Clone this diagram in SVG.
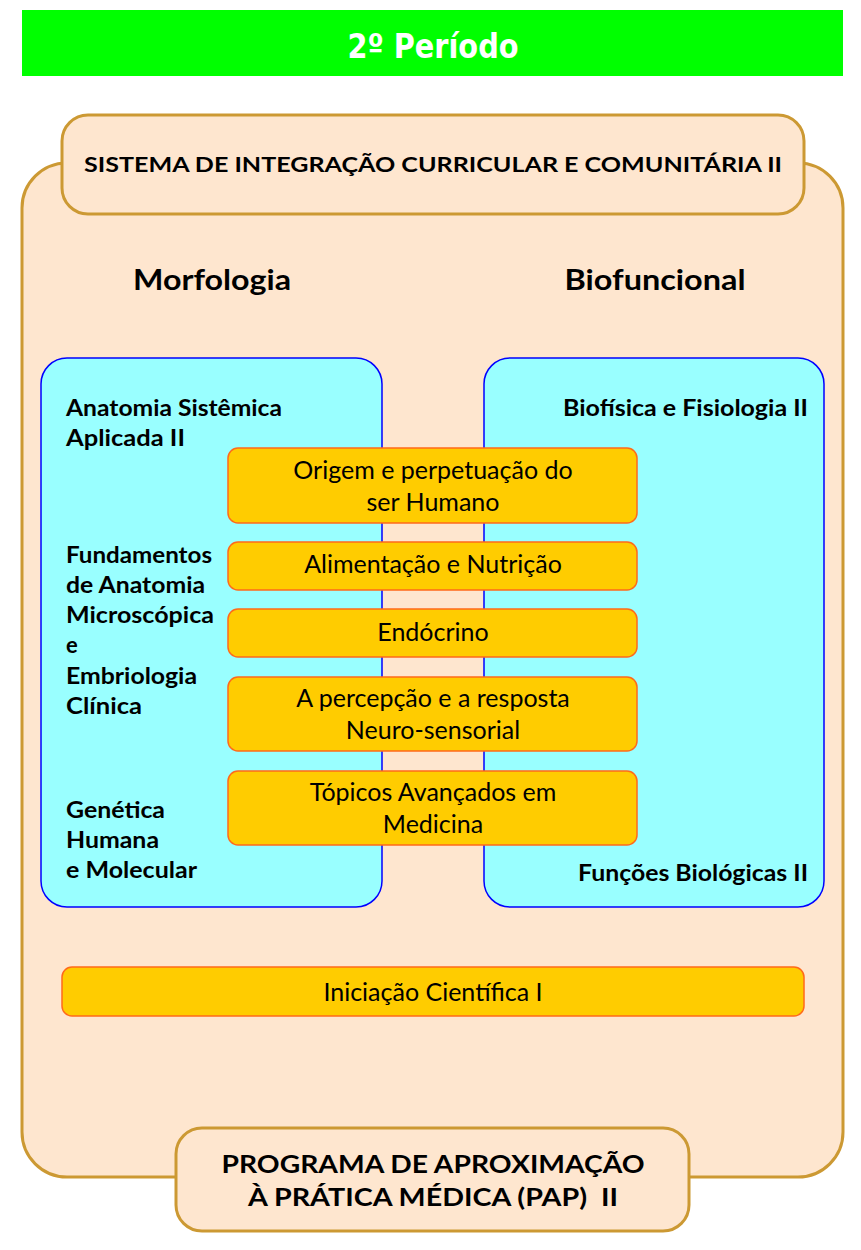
<svg xmlns="http://www.w3.org/2000/svg" width="861" height="1250" viewBox="0 0 861 1250">
<style>
.frame{fill:#fee6cf;stroke:#cc9933;stroke-width:3}
.blue{fill:#99ffff;stroke:#0000ff;stroke-width:1.5}
.org{fill:#ffcc00;stroke:#ff6a1a;stroke-width:1.5}
.b{font-family:Lato,"Open Sans",sans-serif;font-weight:bold;fill:#000}
.r{font-family:Lato,"Open Sans",sans-serif;font-size:25px;fill:#000;text-anchor:middle}
.lab{font-size:22px}
</style>
<rect width="861" height="1250" fill="#fff"/>
<g id="title">
<rect x="22" y="10" width="821" height="66" fill="#00ff00"/>
<text x="433" y="58" text-anchor="middle" font-family="'DejaVu Sans Condensed','DejaVu Sans',sans-serif" font-stretch="condensed" font-weight="bold" font-size="34" fill="#fff" textLength="171" lengthAdjust="spacingAndGlyphs">2º Período</text>
</g>
<g id="container">
<rect class="frame" x="22" y="163" width="821" height="1014" rx="45"/>
</g>
<g id="sicc">
<rect class="frame" x="62" y="115" width="742" height="99" rx="26"/>
<text class="b" x="433" y="172" font-size="21" text-anchor="middle" textLength="698" lengthAdjust="spacingAndGlyphs">SISTEMA DE INTEGRAÇÃO CURRICULAR E COMUNITÁRIA II</text>
</g>
<g id="headings">
<text class="b" x="212" y="290" font-size="28" text-anchor="middle" textLength="158" lengthAdjust="spacingAndGlyphs">Morfologia</text>
<text class="b" x="655" y="290" font-size="28" text-anchor="middle" textLength="181" lengthAdjust="spacingAndGlyphs">Biofuncional</text>
</g>
<g id="morfologia">
<rect class="blue" x="41" y="358" width="341" height="549" rx="26"/>
<text class="b lab" x="66" y="416" textLength="216" lengthAdjust="spacingAndGlyphs">Anatomia Sistêmica</text>
<text class="b lab" x="66" y="446" textLength="119" lengthAdjust="spacingAndGlyphs">Aplicada II</text>
<text class="b lab" x="66" y="563" textLength="146" lengthAdjust="spacingAndGlyphs">Fundamentos</text>
<text class="b lab" x="66" y="593" textLength="139" lengthAdjust="spacingAndGlyphs">de Anatomia</text>
<text class="b lab" x="66" y="623" textLength="148" lengthAdjust="spacingAndGlyphs">Microscópica</text>
<text class="b lab" x="66" y="653">e</text>
<text class="b lab" x="66" y="684" textLength="131" lengthAdjust="spacingAndGlyphs">Embriologia</text>
<text class="b lab" x="66" y="714" textLength="76" lengthAdjust="spacingAndGlyphs">Clínica</text>
<text class="b lab" x="66" y="818" textLength="99" lengthAdjust="spacingAndGlyphs">Genética</text>
<text class="b lab" x="66" y="848" textLength="93" lengthAdjust="spacingAndGlyphs">Humana</text>
<text class="b lab" x="66" y="878" textLength="131" lengthAdjust="spacingAndGlyphs">e Molecular</text>
</g>
<g id="biofuncional">
<rect class="blue" x="484" y="358" width="340" height="549" rx="26"/>
<text class="b lab" x="563" y="416" textLength="245" lengthAdjust="spacingAndGlyphs">Biofísica e Fisiologia II</text>
<text class="b lab" x="578" y="881" textLength="230" lengthAdjust="spacingAndGlyphs">Funções Biológicas II</text>
</g>
<g id="origem">
<rect class="org" x="228" y="448" width="409" height="75" rx="10"/>
<text class="r" x="433" y="479">Origem e perpetuação do</text>
<text class="r" x="433" y="511">ser Humano</text>
</g>
<g id="alimentacao">
<rect class="org" x="228" y="542" width="409" height="48" rx="10"/>
<text class="r" x="433" y="573">Alimentação e Nutrição</text>
</g>
<g id="endocrino">
<rect class="org" x="228" y="609" width="409" height="48" rx="10"/>
<text class="r" x="433" y="641">Endócrino</text>
</g>
<g id="percepcao">
<rect class="org" x="228" y="677" width="409" height="74" rx="10"/>
<text class="r" x="433" y="707">A percepção e a resposta</text>
<text class="r" x="433" y="739">Neuro-sensorial</text>
</g>
<g id="topicos">
<rect class="org" x="228" y="771" width="409" height="74" rx="10"/>
<text class="r" x="433" y="801">Tópicos Avançados em</text>
<text class="r" x="433" y="833">Medicina</text>
</g>
<g id="iniciacao">
<rect class="org" x="62" y="967" width="742" height="49" rx="10"/>
<text class="r" x="433" y="1001">Iniciação Científica I</text>
</g>
<g id="pap">
<rect class="frame" x="176" y="1128" width="513" height="103" rx="26"/>
<text class="b" x="433" y="1173" font-size="25" text-anchor="middle" textLength="423" lengthAdjust="spacingAndGlyphs">PROGRAMA DE APROXIMAÇÃO</text>
<text class="b" x="433" y="1206" font-size="25" text-anchor="middle" textLength="370" lengthAdjust="spacingAndGlyphs" xml:space="preserve">À PRÁTICA MÉDICA (PAP)  II</text>
</g>
<g id="connectors"></g>
</svg>
